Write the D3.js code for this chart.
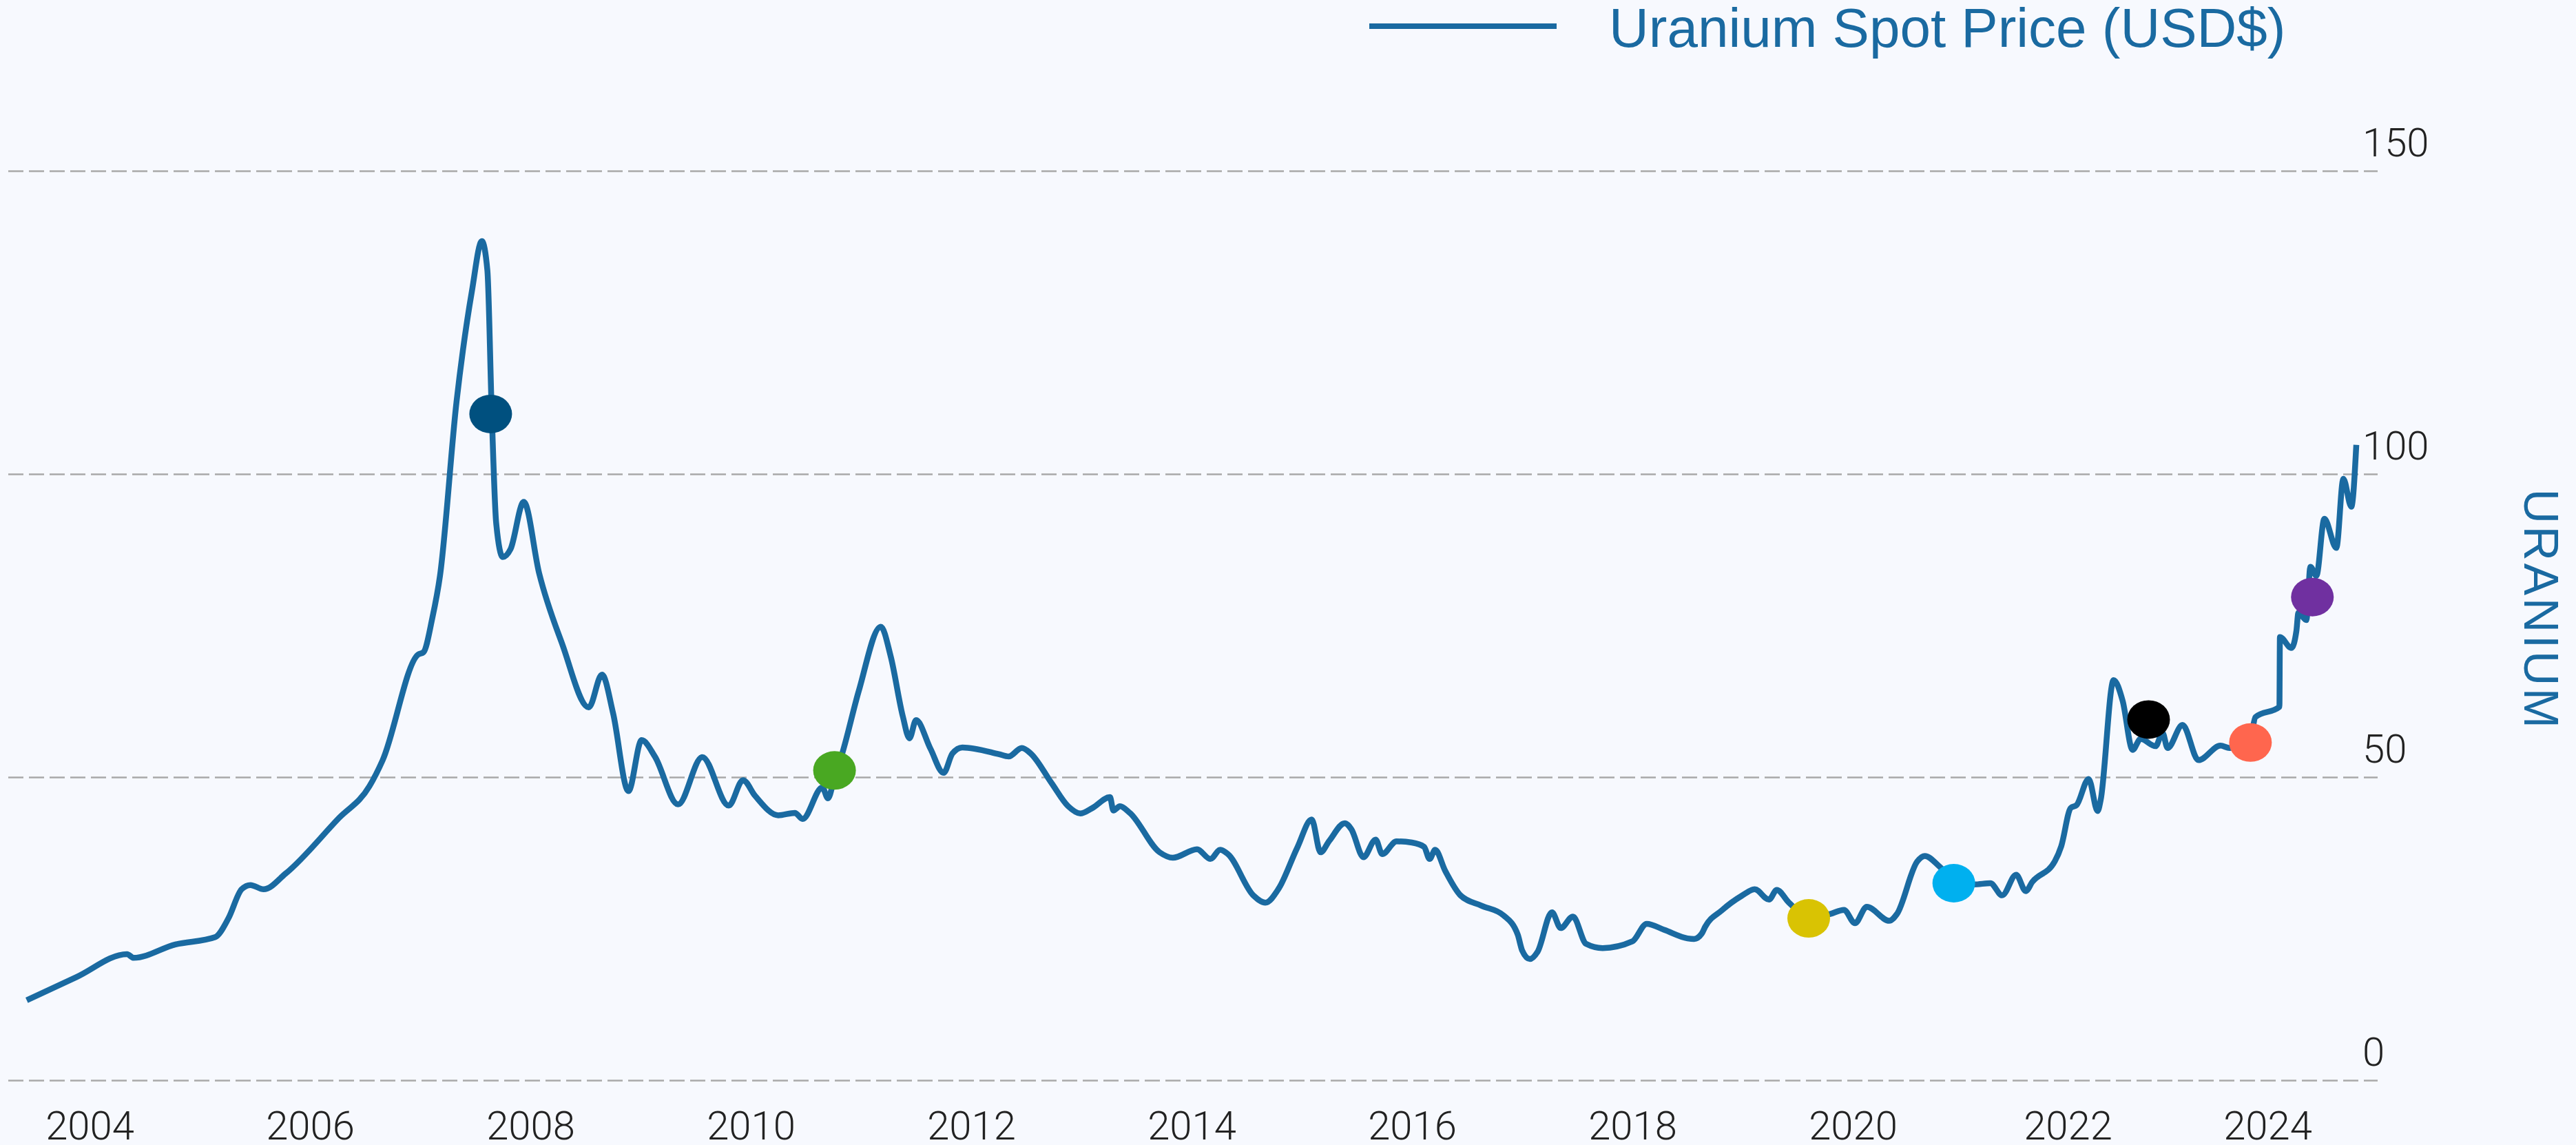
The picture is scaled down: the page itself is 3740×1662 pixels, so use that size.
<!DOCTYPE html>
<html>
<head>
<meta charset="utf-8">
<script src="https://cdn.jsdelivr.net/npm/d3@7"></script>
<style>
  html, body { margin: 0; padding: 0; background: #f7f9fe; }
  svg { display: block; }
</style>
</head>
<body>
<div id="chart"></div>
<script>
// uranium spot price (decimal year, USD)
var years = [
  2003.43, 2003.88, 2004.34, 2004.40, 2004.78, 2005.14, 2005.26, 2005.38, 2005.46, 2005.58, 2005.78,
  2006.26, 2006.54, 2006.66, 2006.98, 2007.03, 2007.11, 2007.18, 2007.33, 2007.47, 2007.56,
  2007.61, 2007.65, 2007.69, 2007.75, 2007.82, 2007.94, 2008.08, 2008.29, 2008.53, 2008.65,
  2008.75, 2008.89, 2009.01, 2009.13, 2009.34, 2009.56, 2009.80, 2009.93, 2010.04, 2010.25,
  2010.40, 2010.47, 2010.65, 2010.70, 2010.76, 2010.83, 2010.98, 2011.18, 2011.27, 2011.38,
  2011.44, 2011.50, 2011.63, 2011.75, 2011.83, 2011.92, 2012.25, 2012.34, 2012.46, 2012.54,
  2012.73, 2012.88, 2012.99, 2013.10, 2013.26, 2013.29, 2013.35, 2013.44, 2013.71, 2013.83,
  2014.05, 2014.17, 2014.26, 2014.33, 2014.56, 2014.67, 2014.79, 2014.96, 2015.09, 2015.17,
  2015.25, 2015.39, 2015.45, 2015.56, 2015.67, 2015.73, 2015.86, 2016.00, 2016.11, 2016.16,
  2016.21, 2016.30, 2016.44, 2016.63, 2016.83, 2016.96, 2017.00, 2017.07, 2017.14, 2017.27,
  2017.35, 2017.46, 2017.58, 2017.73, 2018.00, 2018.13, 2018.29, 2018.50, 2018.56, 2018.63,
  2018.66, 2018.81, 2018.99, 2019.11, 2019.24, 2019.31, 2019.42, 2019.60, 2019.79, 2019.92,
  2020.02, 2020.13, 2020.34, 2020.41, 2020.60, 2020.67, 2020.81, 2020.94, 2021.13, 2021.28,
  2021.39, 2021.52, 2021.61, 2021.67, 2021.88, 2021.94, 2022.03, 2022.09, 2022.21, 2022.30,
  2022.33, 2022.46, 2022.55, 2022.65, 2022.73, 2022.88, 2022.95, 2023.00, 2023.15, 2023.31,
  2023.53, 2023.62, 2023.83, 2023.88, 2024.12, 2024.125, 2024.24, 2024.29, 2024.31, 2024.39,
  2024.43, 2024.49, 2024.57, 2024.69, 2024.76, 2024.84, 2024.89
];
var prices = [
  13.2, 17.0, 20.8, 20.2, 22.4, 23.6, 26.7, 31.5, 32.2, 31.5, 34.1,
  43.2, 48.5, 52.8, 70.2, 70.6, 76.2, 83.2, 111.9, 130.2, 138.4,
  133.6, 109.9, 91.9, 86.3, 87.6, 95.4, 83.6, 71.9, 61.5, 66.9,
  60.6, 47.7, 56.1, 53.4, 45.5, 53.3, 45.3, 49.5, 46.9, 43.7,
  44.1, 43.1, 48.3, 46.5, 50.0, 53.9, 64.2, 74.8, 69.9, 60.0,
  56.4, 59.4, 54.7, 50.7, 53.9, 54.9, 53.8, 53.4, 54.8, 53.9,
  49.0, 45.2, 44.0, 44.9, 46.7, 44.5, 45.2, 44.1, 37.6, 36.7,
  38.1, 36.5, 38.0, 37.3, 30.5, 29.3, 31.6, 38.4, 43.0, 37.6,
  39.5, 42.4, 41.4, 36.8, 39.7, 37.3, 39.4, 39.2, 38.5, 36.5,
  38.0, 34.6, 30.5, 28.8, 27.2, 24.0, 21.4, 20.0, 21.2, 27.7,
  25.1, 27.0, 22.5, 21.8, 22.9, 25.8, 24.8, 23.4, 23.3, 24.2,
  25.3, 28.0, 30.4, 31.5, 29.8, 31.4, 29.3, 27.0, 27.4, 28.1,
  25.9, 28.6, 26.3, 27.4, 36.1, 37.0, 35.2, 33.0, 32.3, 32.5,
  30.5, 33.9, 31.2, 32.7, 36.1, 38.6, 44.9, 45.4, 49.7, 44.4,
  46.2, 66.0, 62.6, 54.5, 56.3, 55.1, 57.3, 54.8, 58.6, 52.8,
  55.2, 54.8, 56.5, 59.9, 61.6, 73.1, 71.3, 74.1, 77.1, 75.9,
  84.7, 83.2, 92.6, 87.8, 99.2, 94.6, 104.8
];

// highlighted events
var markerYears  = [2007.64, 2010.76, 2019.60, 2020.94, 2022.81, 2023.83, 2024.45];
var markerPrices = [109.9, 51.1, 26.7, 32.5, 59.5, 55.7, 79.7];
var markerColors = ['#00507f', '#49a822', '#d9c303', '#00b0ef', '#000000', '#ff664e', '#7030a0'];

var yearTicks  = [2004, 2006, 2008, 2010, 2012, 2014, 2016, 2018, 2020, 2022, 2024];
var priceTicks = [0, 50, 100, 150];

var seriesName = 'Uranium Spot Price (USD$)';
var axisTitle  = 'URANIUM';

var width = 3740, height = 1662;
var lineColor = '#1a6aa1';

var svg = d3.select('#chart').append('svg')
    .attr('width', width)
    .attr('height', height);

svg.append('rect')
    .attr('width', width)
    .attr('height', height)
    .attr('fill', '#f7f9fe');

// x spacing is not even at the end of the original axis
var x = d3.scaleLinear()
    .domain([2004, 2020, 2022, 2024])
    .range([130, 2690, 3002, 3292]);

var y = d3.scaleLinear()
    .domain([0, 150])
    .range([1568, 248]);

// grid + right labels
var gridLeft = 12, gridRight = 3452;
var yAxis = svg.append('g')
    .attr('transform', 'translate(' + gridLeft + ',0)')
    .call(d3.axisRight(y)
        .tickValues(priceTicks)
        .tickSize(gridRight - gridLeft)
        .tickPadding(3430 - gridRight));
yAxis.select('.domain').remove();
yAxis.selectAll('.tick line')
    .attr('stroke', '#a9a9a9')
    .attr('stroke-width', 2.5)
    .attr('stroke-dasharray', '22,8');
yAxis.selectAll('.tick text')
    .attr('dy', null)
    .attr('y', -22)
    .attr('fill', '#222')
    .style('font-family', 'Roboto, sans-serif')
    .style('font-weight', 300)
    .style('font-size', '58px');

// bottom year labels
var xAxis = svg.append('g')
    .attr('transform', 'translate(0,1568)')
    .call(d3.axisBottom(x)
        .tickValues(yearTicks)
        .tickFormat(d3.format('d'))
        .tickSize(0));
xAxis.select('.domain').remove();
xAxis.selectAll('.tick text')
    .attr('dy', null)
    .attr('y', 86)
    .attr('fill', '#222')
    .style('font-family', 'Roboto, sans-serif')
    .style('font-weight', 300)
    .style('font-size', '58px');

// the price line
var data = years.map(function(d, i) { return {year: d, price: prices[i]}; });
var line = d3.line()
    .x(function(d) { return x(d.year); })
    .y(function(d) { return y(d.price); })
    .curve(d3.curveMonotoneX);

svg.append('path')
    .datum(data)
    .attr('d', line)
    .attr('fill', 'none')
    .attr('stroke', lineColor)
    .attr('stroke-width', 8.5)
    .attr('stroke-linejoin', 'round');

// event markers
svg.selectAll('.marker')
    .data(markerYears)
    .enter().append('ellipse')
        .attr('class', 'marker')
        .attr('cx', function(d) { return x(d); })
        .attr('cy', function(d, i) { return y(markerPrices[i]); })
        .attr('rx', 31)
        .attr('ry', 28)
        .attr('fill', function(d, i) { return markerColors[i]; });

// legend
svg.append('line')
    .attr('x1', 1988).attr('x2', 2260)
    .attr('y1', 38).attr('y2', 38)
    .attr('stroke', lineColor)
    .attr('stroke-width', 8);
svg.append('text')
    .attr('x', 2336)
    .attr('y', 68)
    .attr('fill', lineColor)
    .style('font-family', '"Liberation Sans", Arial, sans-serif')
    .style('font-size', '80px')
    .text(seriesName);

// vertical title on the right
svg.append('text')
    .attr('transform', 'translate(3665,885) rotate(90)')
    .attr('text-anchor', 'middle')
    .attr('fill', lineColor)
    .style('font-family', '"Liberation Sans", Arial, sans-serif')
    .style('font-size', '70px')
    .style('letter-spacing', '3.5px')
    .text(axisTitle);
</script>
</body>
</html>
